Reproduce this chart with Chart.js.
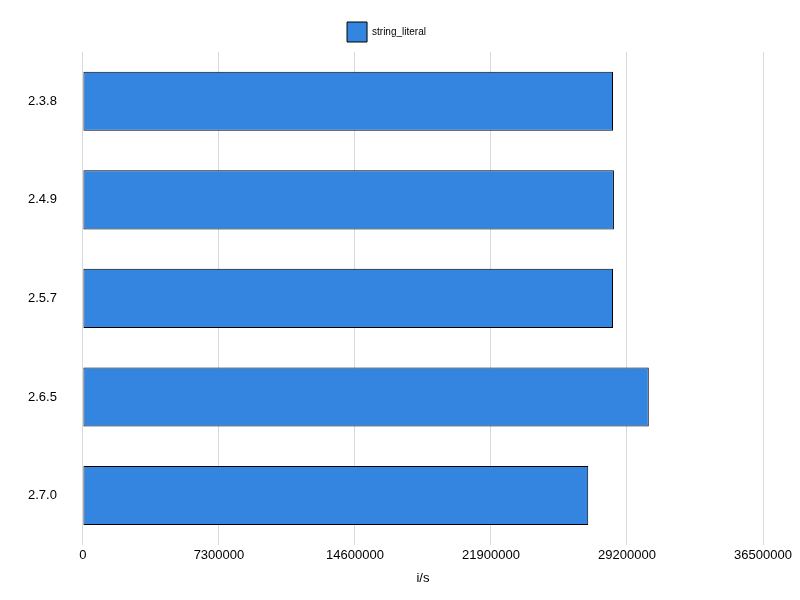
<html>
<head>
    <script src="https://cdn.jsdelivr.net/npm/chart.js"></script>
    <style>
        body { margin: 0; background: white; }
    </style>
</head>
<body>
    <canvas id="chart" width="800" height="600"></canvas>
    <script>
        const versions = ['2.3.8', '2.4.9', '2.5.7', '2.6.5', '2.7.0'];
        const iterationsPerSec = [28450000, 28500000, 28450000, 30370000, 27120000];
        const xTicks = [0, 7300000, 14600000, 21900000, 29200000, 36500000];

        Chart.defaults.font.family = 'Liberation Sans, Arial, sans-serif';
        Chart.defaults.color = '#000';

        new Chart(document.getElementById('chart'), {
            type: 'bar',
            data: {
                labels: versions,
                datasets: [{
                    label: 'string_literal',
                    data: iterationsPerSec,
                    backgroundColor: '#3385e0',
                    borderColor: '#000',
                    borderWidth: 1,
                    borderSkipped: false,
                    categoryPercentage: 0.6,
                    barPercentage: 1
                }]
            },
            options: {
                indexAxis: 'y',
                responsive: false,
                animation: false,
                devicePixelRatio: 1,
                layout: { padding: { left: 10, right: 37, top: 10, bottom: 10 } },
                plugins: {
                    legend: {
                        labels: { boxWidth: 20, boxHeight: 20, font: { size: 10 }, padding: 12 }
                    },
                    tooltip: { enabled: false }
                },
                scales: {
                    x: {
                        min: 0,
                        max: xTicks[xTicks.length - 1],
                        afterBuildTicks: axis => { axis.ticks = xTicks.map(v => ({ value: v })); },
                        ticks: { font: { size: 13 }, callback: v => String(v) },
                        grid: { color: '#d5d9e3', drawTicks: false },
                        border: { display: false },
                        title: { display: true, text: 'i/s', font: { size: 13 } }
                    },
                    y: {
                        ticks: { font: { size: 13 }, padding: 18 },
                        grid: { display: false },
                        border: { display: false }
                    }
                }
            }
        });
    </script>
</body>
</html>
